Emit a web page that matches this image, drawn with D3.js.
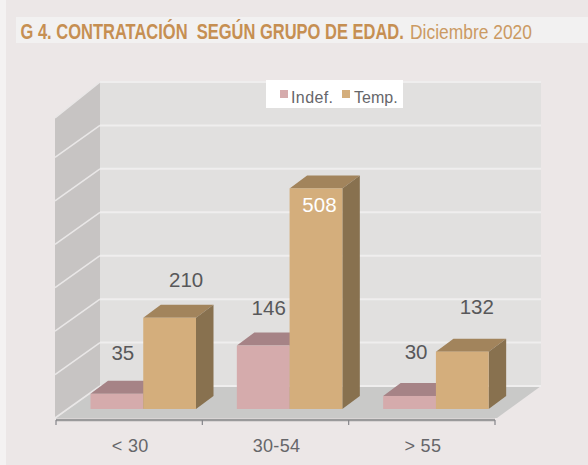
<!DOCTYPE html>
<html><head><meta charset="utf-8">
<script src="https://cdn.jsdelivr.net/npm/d3@7"></script>
<style>html,body{margin:0;padding:0;background:#ECE7E7}svg{display:block}text{font-family:"Liberation Sans",Arial,sans-serif}</style>
</head><body><svg id="c" width="588" height="465"></svg>
<script>
const categories = ["< 30", "30-54", "> 55"];
const seriesNames = ["Indef.", "Temp."];
const indef = [35, 146, 30];
const temp = [210, 508, 132];
const gridValues = [0, 100, 200, 300, 400, 500, 600, 700];
const colors = {
  Indef: {front:"#D5ABAC", top:"#A68386", side:"#8F7375"},
  Temp: {front:"#D4AE7C", top:"#A2845C", side:"#88714F"}
};

const svg = d3.select("#c");
const dx = 44, dy = 32;          // wall depth
const bdx = 17.5, bdy = 13;      // bar depth
const x0 = 56, x1 = 497, axisTop = 418;
const x = d3.scaleBand().domain(categories).range([x0, 495]);
const groupInset = 34.5, groupWidth = 105.5;
const xInner = d3.scaleBand().domain(seriesNames).range([0, groupWidth]);
const groupStart = d => x(d) + groupInset;
const yWall = d3.scaleLinear().domain([0, 700]).range([386, 82]);
const yBar = d3.scaleLinear().domain([0, 700]).range([409, 105]);
const poly = (pts, fill) => svg.append("polygon").attr("points", pts.map(p => p.join(",")).join(" ")).attr("fill", fill);
// condensed text: no narrow face is installed, so squeeze a regular face horizontally to the wanted width
const squeezed = (sel, px, py, width) => {
  const natural = sel.node().getComputedTextLength();
  sel.attr("transform", `translate(${px},${py}) scale(${width / natural},1)`);
};

svg.append("rect").attr("width",588).attr("height",465).attr("fill","#ECE7E7");
svg.append("rect").attr("width",6).attr("height",465).attr("fill","#F4F2F2");
svg.append("rect").attr("x",16).attr("y",17).attr("width",572).attr("height",26).attr("fill","#F2F1F1");

squeezed(svg.append("text").attr("fill","#C68F52").attr("font-weight","bold").attr("font-size",22)
  .text("G 4. CONTRATACIÓN\u00A0\u00A0SEGÚN GRUPO DE EDAD."), 20.5, 38.5, 383.5);
squeezed(svg.append("text").attr("fill","#CB9A63").attr("font-size",20.5)
  .text("Diciembre 2020"), 410, 38.5, 122);

// walls and floor
poly([[x0-1,axisTop],[x0+dx,axisTop-dy],[x0+dx,yWall(700)],[x0-1,yWall(700)+dy+4]], "#C7C4C3");
poly([[x0+dx,386],[x0+dx,yWall(700)],[541,yWall(700)],[541,386]], "#E1E0DF");
poly([[x0,axisTop],[x0+dx,386],[541,386],[x1,axisTop]], "#C9C9C8");

// gridlines
gridValues.forEach(v => {
  const y = yWall(v);
  svg.append("line").attr("x1",x0+dx).attr("x2",541).attr("y1",y).attr("y2",y).attr("stroke","#EFEEEE").attr("stroke-width",2);
  svg.append("line").attr("x1",x0-1).attr("x2",x0+dx).attr("y1",y+dy+(v===700?4:0)).attr("y2",y).attr("stroke","#E9E7E7").attr("stroke-width",1.6);
});

// axis
svg.append("line").attr("x1",x0).attr("x2",495).attr("y1",420).attr("y2",420).attr("stroke","#9A9A9B").attr("stroke-width",2.4);
[...categories.map(c => x(c)), 495].forEach(t => {
  svg.append("line").attr("x1",t).attr("x2",t).attr("y1",420).attr("y2",425).attr("stroke","#85858A").attr("stroke-width",1.2);
});

// bars
const drawBar = (cat, name, val, col) => {
  const bx = groupStart(cat) + xInner(name), w = xInner.bandwidth(), top = yBar(val), base = yBar(0);
  poly([[bx,top],[bx+bdx,top-bdy],[bx+w+bdx,top-bdy],[bx+w,top]], col.top);
  poly([[bx+w,top],[bx+w+bdx,top-bdy],[bx+w+bdx,base-bdy],[bx+w,base]], col.side);
  svg.append("rect").attr("x",bx).attr("y",top).attr("width",w).attr("height",base-top).attr("fill",col.front);
};
categories.forEach((c,i) => {
  drawBar(c, seriesNames[0], indef[i], colors.Indef);
  drawBar(c, seriesNames[1], temp[i], colors.Temp);
});

// value labels
const labelOffsets = [
  [[6,-34],[16.5,-31]],
  [[5.5,-31],[3.5,24]],
  [[6.5,-37],[14.5,-38]]
];
categories.forEach((c,i) => {
  [indef[i], temp[i]].forEach((v,j) => {
    const bx = groupStart(c) + xInner(seriesNames[j]) + xInner.bandwidth()/2;
    const o = labelOffsets[i][j];
    svg.append("text").attr("x",bx+o[0]).attr("y",yBar(v)+o[1]).attr("text-anchor","middle")
      .attr("font-size",20.5).attr("fill",v === 508 ? "#FFFFFF" : "#58585A").text(v);
  });
});

// category labels
categories.forEach(c => {
  svg.append("text").attr("x",x(c)+x.bandwidth()/2+1).attr("y",452).attr("text-anchor","middle").attr("font-size",18).attr("letter-spacing",0.3).attr("fill","#66666A").text(c);
});

// legend
svg.append("rect").attr("x",266).attr("y",80).attr("width",137).attr("height",28).attr("fill","#FFFFFF");
const lx = [280, 342], tx = [291, 354], ls = [0.4, 0];
seriesNames.forEach((n,i) => {
  svg.append("rect").attr("x",lx[i]).attr("y",90).attr("width",8).attr("height",8).attr("fill", i ? colors.Temp.front : colors.Indef.front);
  svg.append("text").attr("x",tx[i]).attr("y",103).attr("font-size",16).attr("letter-spacing",ls[i]).attr("fill","#66666A").text(n);
});
</script></body></html>
